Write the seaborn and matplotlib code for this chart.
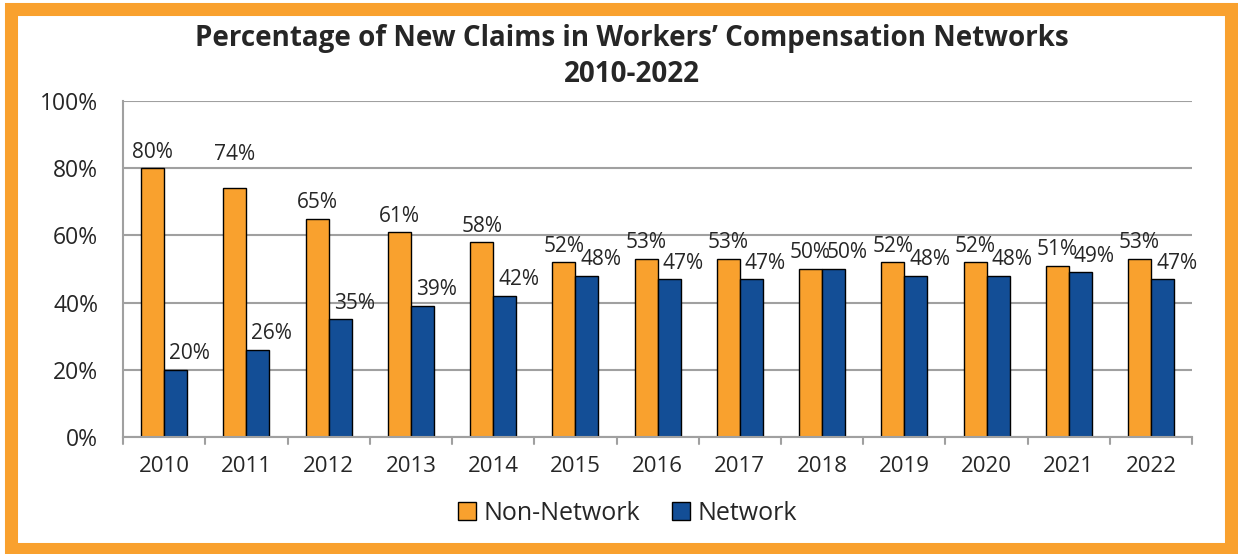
import pandas as pd
import matplotlib.pyplot as plt
import seaborn as sns
from matplotlib.patches import Rectangle

years = ["2010", "2011", "2012", "2013", "2014", "2015", "2016",
         "2017", "2018", "2019", "2020", "2021", "2022"]
non_network = [80, 74, 65, 61, 58, 52, 53, 53, 50, 52, 52, 51, 53]
network = [20, 26, 35, 39, 42, 48, 47, 47, 50, 48, 48, 49, 47]

df = pd.DataFrame({
    "year": years * 2,
    "pct": non_network + network,
    "group": ["Non-Network"] * len(years) + ["Network"] * len(years),
})

sns.set_style("white")
plt.rcParams["font.family"] = ["Open Sans", "DejaVu Sans"]

fig = plt.figure(figsize=(12.38, 5.54), dpi=100)
ax = fig.add_axes([0.0994, 0.2112, 0.8636, 0.6065])

palette = {"Non-Network": "#F9A12E", "Network": "#134E96"}
sns.barplot(data=df, x="year", y="pct", hue="group", palette=palette,
            width=0.56, edgecolor="black", linewidth=1, saturation=1, ax=ax)

# value labels: orange centred above bar, blue pushed a bit to the right
shift_x = {"Non-Network": 0, "Network": 14}
extra_lift = {("Non-Network", "2011"): 18}
for cont, grp in zip(ax.containers, ["Non-Network", "Network"]):
    for bar, yr in zip(cont, years):
        h = bar.get_height()
        ax.annotate(f"{h:.0f}%", (bar.get_x() + bar.get_width() / 2, h),
                    xytext=(shift_x[grp], 16 + extra_lift.get((grp, yr), 0)),
                    textcoords="offset pixels", ha="center", va="center",
                    fontsize=15)

ax.set_ylim(0, 100)
ax.set_xlim(-0.5, len(years) - 0.5)
ax.set_yticks(range(0, 101, 20))
ax.set_yticklabels([f"{v}%" for v in range(0, 101, 20)], fontsize=16.5)
ax.tick_params(axis="x", labelsize=16, length=0, pad=14)
ax.tick_params(axis="y", length=6, width=1.5, color="#A0A0A0", direction="out", pad=12)
ax.set_xlabel("")
ax.set_ylabel("")

ax.yaxis.grid(True, color="#A0A0A0", linewidth=1.5)
ax.set_axisbelow(True)
for s in ["top", "right"]:
    ax.spines[s].set_visible(False)
for s in ["left", "bottom"]:
    ax.spines[s].set_color("#A0A0A0")
    ax.spines[s].set_linewidth(1.5)

# category boundary ticks on x axis
for b in range(len(years) + 1):
    ax.plot([b - 0.5, b - 0.5], [0, -2.2], color="#A0A0A0", lw=1.5, clip_on=False)

fig.text(0.5105, 0.898, "Percentage of New Claims in Workers’ Compensation Networks\n2010-2022",
         ha="center", va="center", fontsize=20, fontweight="bold", linespacing=1.36)

ax.get_legend().remove()
handles, labels = ax.get_legend_handles_labels()
fig.legend(handles, labels, loc="center", bbox_to_anchor=(0.507, 0.074), ncol=2,
           frameon=False, fontsize=18, handlelength=0.7, handleheight=0.7,
           handletextpad=0.3, columnspacing=1.3)

fig.patches.append(Rectangle((0.0089, 0.0099), 0.9855, 0.9739, transform=fig.transFigure,
                             fill=False, edgecolor="#F9A12E", linewidth=9.4))

fig.savefig("out.png", dpi=100)
